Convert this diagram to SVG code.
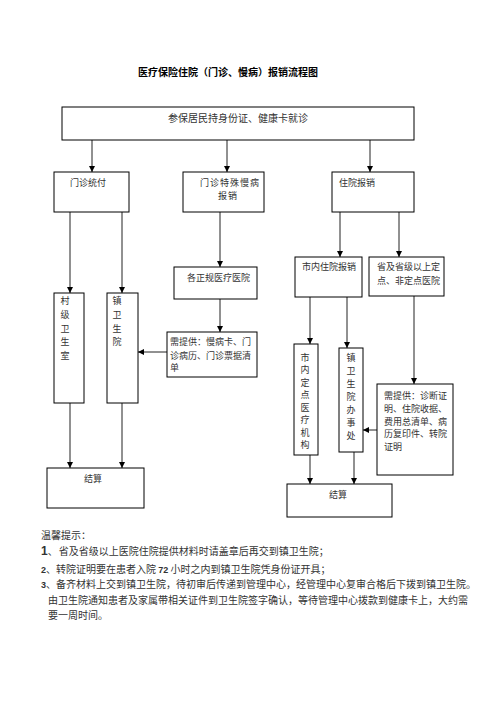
<svg xmlns="http://www.w3.org/2000/svg" width="496" height="702" viewBox="0 0 496 702">
<defs>
<style>
.bg{fill:#fff}
.box{fill:#fff;stroke:#000;stroke-width:1}
.t{font-family:"Noto Sans CJK SC","Noto Sans",sans-serif;font-size:9px;fill:#333}
.tl{font-family:"Noto Sans CJK SC","Noto Sans",sans-serif;font-size:10px;fill:#333}
.title{font-family:"Noto Sans CJK SC","Noto Sans",sans-serif;font-size:10px;font-weight:bold;fill:#000}
.num{font-family:"Liberation Sans","Noto Sans",sans-serif;font-weight:bold;fill:#333}
.c{stroke:#222;stroke-width:1;fill:none;marker-end:url(#ah)}
</style>
<marker id="ah" markerUnits="userSpaceOnUse" markerWidth="6" markerHeight="6" refX="6" refY="3" orient="auto">
<path d="M0,0 L6,3 L0,6 z" fill="#000"/>
</marker>
</defs>
<rect class="bg" x="0" y="0" width="496" height="702"/>
<text class="title" x="228" y="76" text-anchor="middle">医疗保险住院（门诊、慢病）报销流程图</text>

<g id="connectors">
<line class="c" x1="92" y1="140" x2="92" y2="172"/>
<line class="c" x1="227" y1="140" x2="227" y2="172"/>
<line class="c" x1="370" y1="140" x2="370" y2="172"/>
<line class="c" x1="70" y1="212" x2="70" y2="293"/>
<line class="c" x1="122" y1="212" x2="122" y2="293"/>
<line class="c" x1="220" y1="212" x2="220" y2="267"/>
<line class="c" x1="220" y1="299" x2="220" y2="332"/>
<line class="c" x1="167" y1="352" x2="138" y2="352"/>
<line class="c" x1="70" y1="403" x2="70" y2="468"/>
<line class="c" x1="122" y1="403" x2="122" y2="468"/>
<line class="c" x1="340" y1="212" x2="340" y2="257"/>
<line class="c" x1="399" y1="212" x2="399" y2="257"/>
<line class="c" x1="310" y1="297" x2="310" y2="344"/>
<line class="c" x1="347" y1="297" x2="347" y2="348"/>
<line class="c" x1="414" y1="296" x2="414" y2="384"/>
<line class="c" x1="377" y1="430" x2="363" y2="430"/>
<line class="c" x1="310" y1="455" x2="310" y2="484"/>
<line class="c" x1="354" y1="452" x2="354" y2="484"/>
</g>

<g id="n-start">
<rect class="box" x="62" y="107" width="352" height="33"/>
<text class="tl" x="238" y="121.5" text-anchor="middle">参保居民持身份证、健康卡就诊</text>
</g>
<g id="n-mzft">
<rect class="box" x="54" y="172" width="75" height="40"/>
<text class="t" x="70" y="186">门诊统付</text>
</g>
<g id="n-mztsmb">
<rect class="box" x="183" y="172" width="81" height="40"/>
<text class="t" x="200" y="186" letter-spacing="1">门诊特殊慢病</text>
<text class="t" x="218" y="199" letter-spacing="1">报销</text>
</g>
<g id="n-zybx">
<rect class="box" x="332" y="172" width="82" height="40"/>
<text class="t" x="339" y="186">住院报销</text>
</g>
<g id="n-gzgyl">
<rect class="box" x="174" y="267" width="83" height="32"/>
<text class="t" x="187" y="281">各正规医疗医院</text>
</g>
<g id="n-xtg1">
<rect class="box" x="167" y="332" width="90" height="45"/>
<text class="t" x="170" y="345">需提供：慢病卡、门</text>
<text class="t" x="170" y="358.5">诊病历、门诊票据清</text>
<text class="t" x="170" y="371">单</text>
</g>
<g id="n-cjwss">
<rect class="box" x="54" y="293" width="30" height="110"/>
<text class="t" text-anchor="middle"><tspan x="65" y="304">村</tspan><tspan x="65" y="318">级</tspan><tspan x="65" y="331.5">卫</tspan><tspan x="65" y="345">生</tspan><tspan x="65" y="359">室</tspan></text>
</g>
<g id="n-zwsy">
<rect class="box" x="107" y="293" width="31" height="110"/>
<text class="t" text-anchor="middle"><tspan x="117" y="304">镇</tspan><tspan x="117" y="318">卫</tspan><tspan x="117" y="331.5">生</tspan><tspan x="117" y="345">院</tspan></text>
</g>
<g id="n-js1">
<rect class="box" x="47" y="468" width="97" height="40"/>
<text class="t" x="84" y="481.5">结算</text>
</g>
<g id="n-snzy">
<rect class="box" x="295" y="257" width="67" height="40"/>
<text class="t" x="302" y="270">市内住院报销</text>
</g>
<g id="n-sjys">
<rect class="box" x="369" y="257" width="75" height="39"/>
<text class="t" x="377" y="270">省及省级以上定</text>
<text class="t" x="377" y="284">点、非定点医院</text>
</g>
<g id="n-sndd">
<rect class="box" x="294" y="344" width="24" height="111"/>
<text class="t" text-anchor="middle"><tspan x="305" y="360.5">市</tspan><tspan x="305" y="373">内</tspan><tspan x="305" y="385.5">定</tspan><tspan x="305" y="398">点</tspan><tspan x="305" y="410.5">医</tspan><tspan x="305" y="423">疗</tspan><tspan x="305" y="435.5">机</tspan><tspan x="305" y="448">构</tspan></text>
</g>
<g id="n-zwsybsc">
<rect class="box" x="339" y="348" width="24" height="104"/>
<text class="t" text-anchor="middle"><tspan x="351" y="360.5">镇</tspan><tspan x="351" y="373.5">卫</tspan><tspan x="351" y="386.5">生</tspan><tspan x="351" y="399.5">院</tspan><tspan x="351" y="412.5">办</tspan><tspan x="351" y="425.5">事</tspan><tspan x="351" y="438.5">处</tspan></text>
</g>
<g id="n-xtg2">
<rect class="box" x="377" y="384" width="76" height="91"/>
<text class="t" x="384" y="398.5">需提供：诊断证</text>
<text class="t" x="384" y="411.5">明、住院收据、</text>
<text class="t" x="384" y="424.5">费用总清单、病</text>
<text class="t" x="384" y="437">历复印件、转院</text>
<text class="t" x="384" y="450">证明</text>
</g>
<g id="n-js2">
<rect class="box" x="287" y="484" width="105" height="33"/>
<text class="t" x="329" y="497.5">结算</text>
</g>

<g id="tips">
<text class="tl" x="41" y="538.5">温馨提示：</text>
<text class="tl" x="41" y="555"><tspan class="num" font-size="12">1</tspan>、<tspan dx="1">省及省级以上医院住院提供材料时请盖章后再交到镇卫生院；</tspan></text>
<text class="tl" x="41" y="572.5"><tspan class="num" font-size="9">2</tspan>、转院证明要在患者入院 <tspan class="num" font-size="9">72</tspan> 小时之内到镇卫生院凭身份证开具；</text>
<text class="tl" x="41" y="587.5"><tspan class="num" font-size="9">3</tspan>、备齐材料上交到镇卫生院，待初审后传递到管理中心，经管理中心复审合格后下拨到镇卫生院。</text>
<text class="tl" x="48" y="603.5">由卫生院通知患者及家属带相关证件到卫生院签字确认，等待管理中心拨款到健康卡上，大约需</text>
<text class="tl" x="48" y="618.5">要一周时间。</text>
</g>
</svg>
